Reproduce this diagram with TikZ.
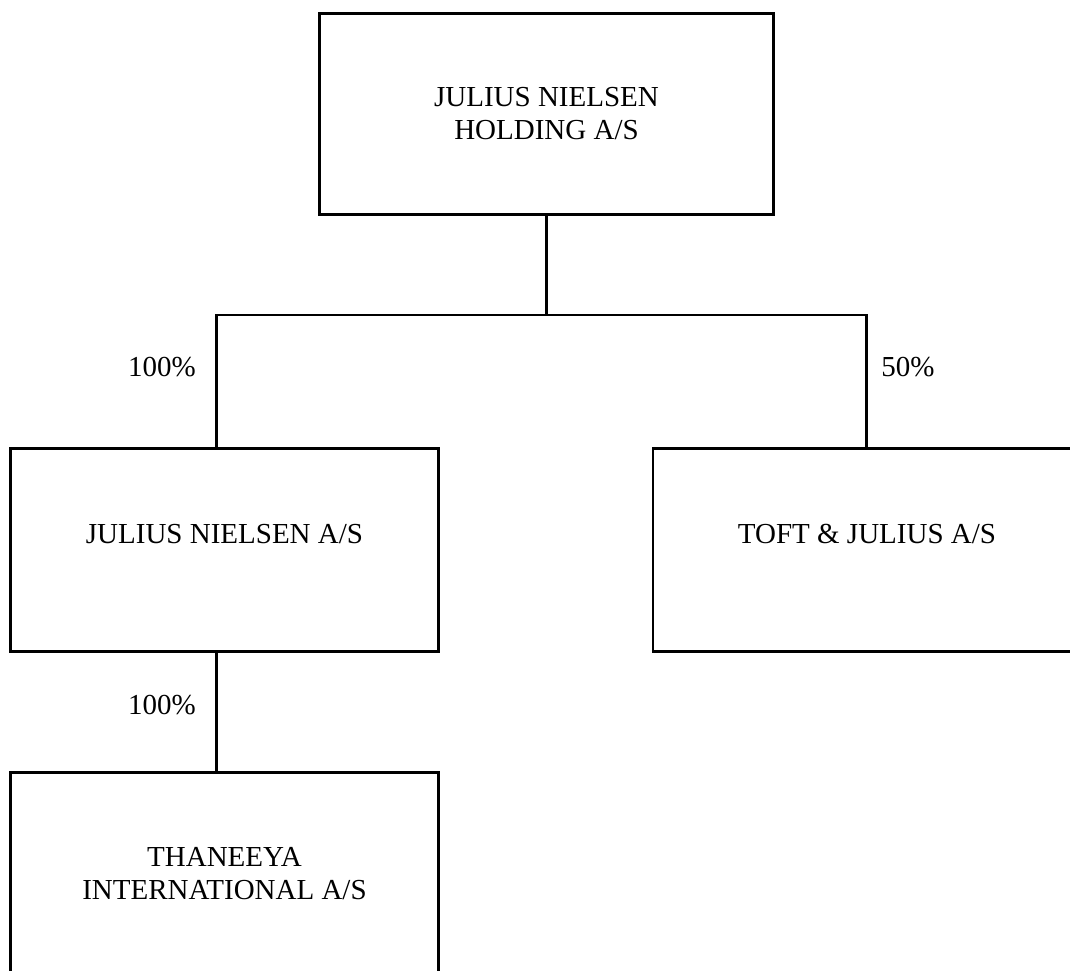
\documentclass[tikz,border=0pt]{standalone}
\usepackage{fontspec}
\setmainfont{Liberation Serif}
\usetikzlibrary{positioning, calc}

\begin{document}
\begin{tikzpicture}[x=1pt, y=1pt,
    company/.style={draw, rectangle, line width=2.6pt, minimum width=428pt, minimum height=203pt, align=center, font=\fontsize{29}{33}\selectfont},
    link/.style={line width=2.6pt},
    share/.style={font=\fontsize{29}{33}\selectfont}]
    \clip (0,0) rectangle (1070,-971);

    \node (hold) at (546.5,-114) [company, minimum width=454pt, minimum height=201pt] {JULIUS NIELSEN\\HOLDING A/S};
    \node (jn) at (224.5,-550) [company] {JULIUS NIELSEN A/S\\~};
    \node (tj) at (867,-550) [company] {TOFT \& JULIUS A/S\\~};
    \node (tha) at (224.5,-874) [company] {THANEEYA\\INTERNATIONAL A/S};

    \coordinate (split) at ($(hold.south)+(0,-100)$);
    \coordinate (lleg) at (216.5,-315);
    \coordinate (rleg) at (866.5,-315);

    \draw [link] (hold.south) -- (split);
    \draw [link] (lleg |- jn.north) -- (lleg) -- (rleg) -- (rleg |- tj.north);
    \draw [link] (jn.south -| lleg) -- (lleg |- tha.north);

    \node (p1) at (162,-367) [share] {100\%};
    \node (p2) at (908,-367) [share] {50\%};
    \node (p3) at (162,-705) [share] {100\%};
\end{tikzpicture}
\end{document}
